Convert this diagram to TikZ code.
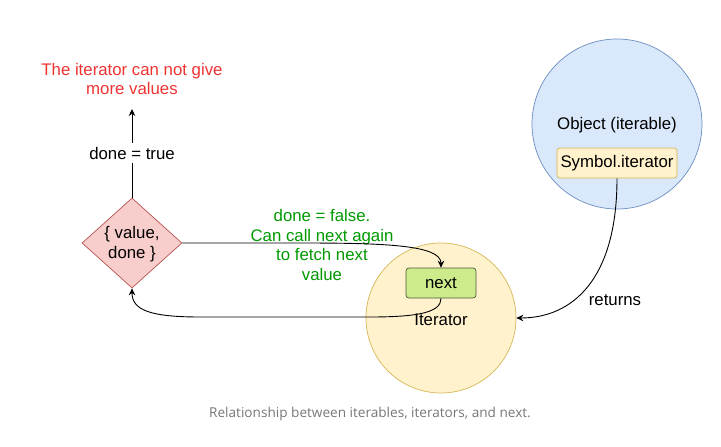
\documentclass[tikz,border=0pt]{standalone}
\usepackage{fontspec}
\setmainfont{Liberation Sans}
\newfontfamily\capfont{Open Sans}
\usetikzlibrary{shapes.geometric,arrows.meta}
\definecolor{objfill}{HTML}{DAE8FC}
\definecolor{objline}{HTML}{6C8EBF}
\definecolor{yfill}{HTML}{FFF2CC}
\definecolor{yline}{HTML}{D6B656}
\definecolor{gfill}{HTML}{CDEB8B}
\definecolor{gline}{HTML}{4D5A3A}
\definecolor{rfill}{HTML}{F8CECC}
\definecolor{rline}{HTML}{B85450}
\definecolor{redtxt}{HTML}{EE3333}
\definecolor{greentxt}{HTML}{009900}
\definecolor{captxt}{HTML}{777777}
\tikzset{
  every node/.style={font=\fontsize{16.8}{19.5}\selectfont, inner sep=0pt},
  conn/.style={line width=0.9pt, -{Stealth[length=7pt,width=6.5pt]}},
  bigcircle/.style={circle, line width=0.7pt},
  smallbox/.style={rectangle, rounded corners=3pt, line width=0.7pt},
}
\begin{document}
\begin{tikzpicture}[x=1pt,y=-1pt]
\useasboundingbox (0,0) rectangle (721,447);
% Object circle
\node[bigcircle, fill=objfill, draw=objline, minimum size=170pt] (obj) at (617,124) {};
\node (objlabel) at (617,125) {Object (iterable)};
\node[smallbox, fill=yfill, draw=yline, minimum width=120pt, minimum height=30pt] (sym) at (617,163) {Symbol.iterator};
% Iterator circle
\node[bigcircle, fill=yfill, draw=yline, minimum size=150pt] (iter) at (441,318) {};
\node (iterlabel) at (441,320) {Iterator};
\node[smallbox, fill=gfill, draw=gline, minimum width=70pt, minimum height=30pt] (next) at (441,283) {next};
% Diamond
\node[diamond, aspect=1.11, fill=rfill, draw=rline, line width=0.7pt, minimum width=100pt, minimum height=90pt] (dia) at (132,243) {};
\node[align=center] (dialabel) at (132,244) {\{ value,\\ done \}};
% Top text
\node[align=center, text=redtxt] (endtxt) at (132,79) {The iterator can not give\\ more values};
\coordinate (uptip) at (132,109);
\draw[conn] (dia.north) -- node[fill=white, inner xsep=1pt, inner ysep=4pt] (donetrue) {done = true} (uptip);
% Green label
\node[align=center, text=greentxt] (falsetxt) at (322,245) {done = false.\\ Can call next again\\ to fetch next\\ value};
% Connectors
\draw[conn] (dia.east) -- (300,243) .. controls (385,243) and (441,245) .. (next.north);
\draw[conn] (next.south) .. controls (441,312) and (420,317) .. (370,317) -- (200,317) .. controls (150,317) and (132,310) .. (dia.south);
\draw[conn] (sym.south) .. controls (617,280) and (572,318) .. (iter.east);
\node (returns) at (615,300) {returns};
% Caption
\node[font=\capfont\fontsize{13.6}{15}\selectfont, text=captxt] (caption) at (370,414) {Relationship between iterables, iterators, and next.};
\end{tikzpicture}
\end{document}
